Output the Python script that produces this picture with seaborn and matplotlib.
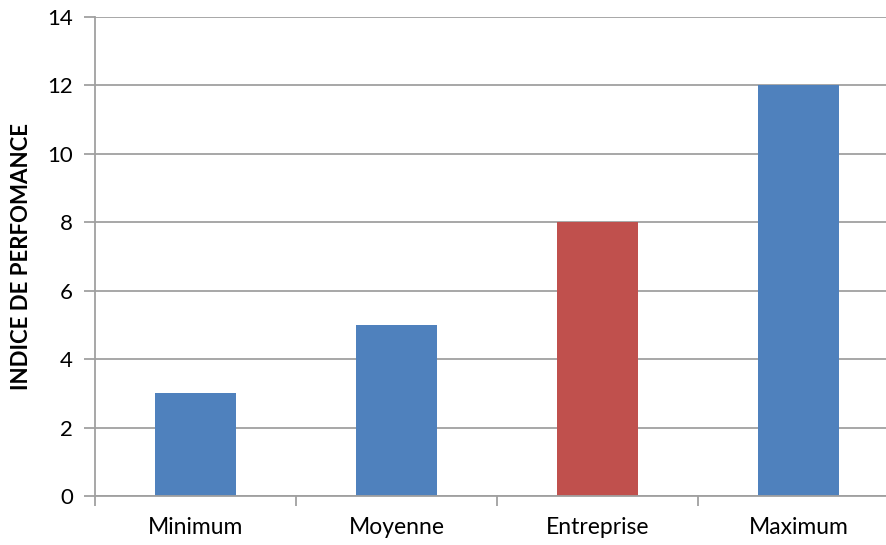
import matplotlib
matplotlib.use("Agg")
import matplotlib.pyplot as plt
import seaborn as sns
import pandas as pd

categories = ["Minimum", "Moyenne", "Entreprise", "Maximum"]
values = [3, 5, 8, 12]
colors = ["#4F81BD", "#4F81BD", "#C0504D", "#4F81BD"]
yticks = [0, 2, 4, 6, 8, 10, 12, 14]

sns.set_style("white")
plt.rcParams['font.family'] = ['Lato', 'DejaVu Sans']
plt.rcParams['text.color'] = 'black'
plt.rcParams['axes.labelcolor'] = 'black'
plt.rcParams['xtick.color'] = 'black'
plt.rcParams['ytick.color'] = 'black'

df = pd.DataFrame({"cat": categories, "val": values})
fig = plt.figure(figsize=(8.87, 5.45), dpi=100)
ax = fig.add_axes([95/887, 49/545, 804/887, 479/545])
sns.barplot(data=df, x="cat", y="val", hue="cat", palette=colors, width=0.4,
            legend=False, ax=ax, saturation=1, linewidth=0, edgecolor="none")
ax.set_xlim(-0.5, 3.5)
ax.set_ylim(0, 14)
ax.set_yticks(yticks)
ax.yaxis.grid(True, color="#A0A0A0", linewidth=1.3)
ax.set_axisbelow(True)
for s in ["top", "right"]:
    ax.spines[s].set_visible(False)
for s in ["left", "bottom"]:
    ax.spines[s].set_color("#A0A0A0")
    ax.spines[s].set_linewidth(1.3)
ax.set_xticks([0, 1, 2, 3])
ax.set_xticklabels(categories, fontsize=16.5)
ax.tick_params(axis="x", which="major", bottom=True, length=0, pad=15, labelcolor="black")
ax.set_xticks([-0.5, 0.5, 1.5, 2.5, 3.5], minor=True)
ax.tick_params(axis="x", which="minor", bottom=True, length=7, color="#A0A0A0", width=1.3, direction="out")
ax.tick_params(axis="y", left=True, length=8, color="#A0A0A0", width=1.3, labelsize=16, pad=8, labelcolor="black")
ax.set_xlabel("")
ax.set_ylabel("INDICE DE PERFOMANCE", fontsize=16, fontweight="bold", labelpad=11, color="black")
fig.savefig("out.png", dpi=100)
